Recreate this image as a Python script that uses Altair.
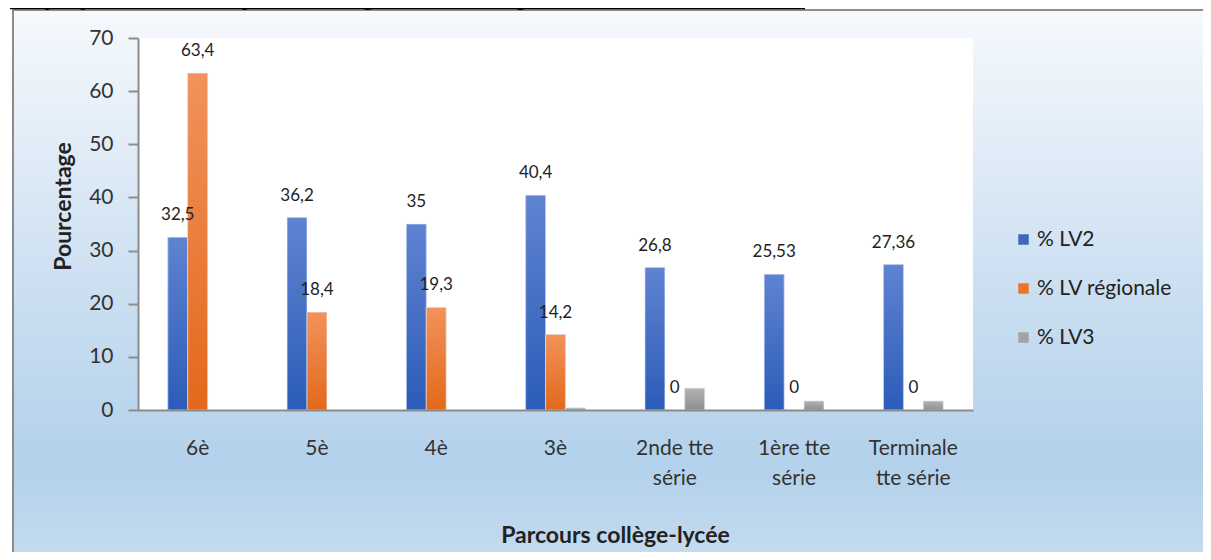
import altair as alt
import pandas as pd

categories = ["6è", "5è", "4è", "3è", "2nde tte série", "1ère tte série", "Terminale tte série"]
label_lines = {
    "2nde tte série": ["2nde tte", "série"],
    "1ère tte série": ["1ère tte", "série"],
    "Terminale tte série": ["Terminale", "tte série"],
}
series = ["% LV2", "% LV régionale", "% LV3"]
lv2 = [32.5, 36.2, 35, 40.4, 26.8, 25.53, 27.36]
lv2_txt = ["32,5", "36,2", "35", "40,4", "26,8", "25,53", "27,36"]
lvr = [63.4, 18.4, 19.3, 14.2, 0, 0, 0]
lvr_txt = ["63,4", "18,4", "19,3", "14,2", "0", "0", "0"]
lv3 = [0, 0, 0, 0.4, 4.1, 1.7, 1.7]
lv3_txt = ["", "", "", "", "", "", ""]

title_text = "Graphique n°7: Effectifs parcours Langue vivante et régionale: 2017-2018"

rows = []
for s, vals, txts in zip(series, [lv2, lvr, lv3], [lv2_txt, lvr_txt, lv3_txt]):
    for c, v, t in zip(categories, vals, txts):
        rows.append({"cat": c, "series": s, "value": v, "label": t})
df = pd.DataFrame(rows)

W, H = 835, 372
FONT = "Lato"

expr = "".join(
    f"datum.label == '{k}' ? {v!r} : " for k, v in label_lines.items()
) + "datum.label"

x_enc = alt.X(
    "cat:N",
    sort=categories,
    scale=alt.Scale(domain=categories, paddingInner=0.5, paddingOuter=0.25),
    axis=alt.Axis(
        title="Parcours collège-lycée",
        zindex=2,
        labelAngle=0,
        labelExpr=expr,
        ticks=False,
        labelPadding=27,
        labelLineHeight=30,
        labelFontSize=21,
        labelColor="#333333",
        labelFont=FONT,
        domainColor="#8c8c8c",
        domainWidth=2,
        titleFont=FONT,
        titleFontSize=23,
        titleFontWeight="bold",
        titleColor="#222222",
        titleX=477,
        titleY=125,
        titleBaseline="middle",
        titleAlign="center",
    ),
)
xo_enc = alt.XOffset("series:N", sort=series, scale=alt.Scale(domain=series, paddingInner=0, paddingOuter=0))
y_enc = alt.Y(
    "value:Q",
    scale=alt.Scale(domain=[0, 70]),
    axis=alt.Axis(
        title="Pourcentage",
        zindex=2,
        values=[0, 10, 20, 30, 40, 50, 60, 70],
        grid=False,
        tickSize=10,
        tickColor="#8c8c8c",
        tickWidth=2,
        labelPadding=15,
        labelFontSize=21,
        labelFont=FONT,
        labelColor="#333333",
        domainColor="#8c8c8c",
        domainWidth=2,
        titleFont=FONT,
        titleFontSize=23,
        titleFontWeight="bold",
        titleColor="#222222",
        titleX=-75,
        titleY=168,
        titleAngle=270,
        titleBaseline="middle",
        titleAlign="center",
    ),
)

bg_grad = alt.LinearGradient(
    gradient="linear",
    stops=[
        alt.GradientStop(color="#f6f9fd", offset=0),
        alt.GradientStop(color="#cfe1f2", offset=0.45),
        alt.GradientStop(color="#b3d1eb", offset=0.8),
        alt.GradientStop(color="#c8ddf0", offset=1),
    ],
    x1=0, x2=0, y1=0, y2=1,
)

base_one = alt.Chart(pd.DataFrame({"a": [0]}))

frame = base_one.mark_rect(fill=bg_grad, stroke="#8c8c8c", strokeWidth=2).encode(
    x=alt.value(-125), x2=alt.value(1110), y=alt.value(-28), y2=alt.value(540)
)
plotbg = base_one.mark_rect(fill="white").encode(
    x=alt.value(0), x2=alt.value(W), y=alt.value(0), y2=alt.value(H)
)
title = base_one.mark_text(
    text=title_text, font="Liberation Serif", fontSize=23, align="left", baseline="alphabetic", color="#000000"
).encode(x=alt.value(-128), y=alt.value(-33))
underline = base_one.mark_rule(color="#000000", strokeWidth=1.5).encode(
    x=alt.value(-128), x2=alt.value(667), y=alt.value(-29.5)
)

bars = alt.Chart(df).mark_bar().encode(
    x=x_enc,
    xOffset=xo_enc,
    y=y_enc,
    color=alt.Color(
        "series:N",
        sort=series,
        scale=alt.Scale(domain=series, range=["#3d68c2", "#ec7427", "#a3a3a3"]),
        legend=alt.Legend(
            title=None,
            orient="none",
            legendX=875,
            legendY=191,
            symbolType="square",
            symbolSize=110,
            symbolStrokeWidth=0,
            labelFont=FONT,
            labelFontSize=21,
            labelColor="#222222",
            rowPadding=27,
            labelOffset=3,
        ),
    ),
)

grads = {
    "% LV2": ("#5f83d1", "#2c5cb8"),
    "% LV régionale": ("#f2925c", "#e2691b"),
    "% LV3": ("#b3b3b3", "#8f8f8f"),
}
overlays = []
for s in series:
    top, bot = grads[s]
    g = alt.LinearGradient(
        gradient="linear",
        stops=[alt.GradientStop(color=top, offset=0), alt.GradientStop(color=bot, offset=1)],
        x1=0, x2=0, y1=0, y2=1,
    )
    overlays.append(
        alt.Chart(df).transform_filter(alt.datum.series == s).mark_bar(fill=g, stroke="#e8eefa", strokeWidth=0.6).encode(
            x=x_enc, xOffset=xo_enc, y=y_enc
        )
    )

labels = alt.Chart(df).transform_filter(alt.datum.label != "").mark_text(
    font=FONT, fontSize=17, color="#222222", baseline="middle", dy=-22
).encode(x=x_enc, xOffset=xo_enc, y=y_enc, text="label:N")

chart = alt.layer(frame, title, underline, plotbg, bars, *overlays, labels).properties(
    width=W,
    height=H,
    autosize=alt.AutoSizeParams(type="none"),
    padding={"left": 130, "top": 30, "right": 230, "bottom": 142},
).configure_view(stroke=None)

chart.save("out.html", embed_options={"renderer": "svg", "actions": False})
